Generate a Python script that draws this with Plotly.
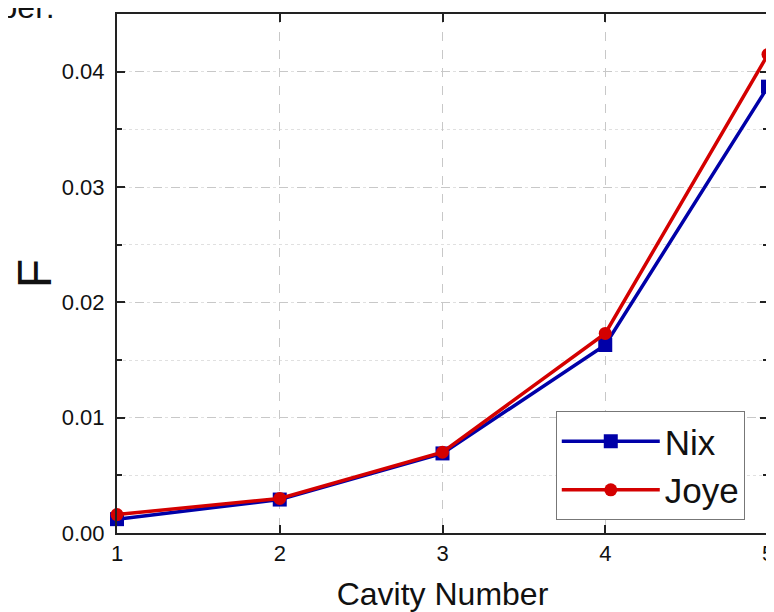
import plotly.graph_objects as go

cavity = [1, 2, 3, 4, 5]
nix = [0.0012, 0.0029, 0.0069, 0.0163, 0.0387]
joye = [0.0016, 0.0030, 0.0070, 0.0173, 0.0415]
y_ticks = [0.00, 0.01, 0.02, 0.03, 0.04]
y_ticklabels = ["0.00", "0.01", "0.02", "0.03", "0.04"]

fig = go.Figure()
fig.add_trace(go.Scatter(x=cavity, y=nix, name="Nix", mode="lines+markers",
                         line=dict(color="#0000A8", width=3.5),
                         marker=dict(symbol="square", size=14, color="#0000A8"),
                         cliponaxis=False))
fig.add_trace(go.Scatter(x=cavity, y=joye, name="Joye", mode="lines+markers",
                         line=dict(color="#D40000", width=3.5),
                         marker=dict(symbol="circle", size=13, color="#D40000"),
                         cliponaxis=False))

font_family = "Liberation Sans, Arial, sans-serif"
axis_common = dict(showline=True, linecolor="#222222", linewidth=2, mirror="ticks",
                   ticks="inside", ticklen=8, tickwidth=2, tickcolor="#222222",
                   showgrid=True, gridcolor="#c8c8c8", gridwidth=1, griddash="dash",
                   zeroline=False, automargin=False, ticklabeloverflow="allow",
                   tickfont=dict(family=font_family, size=22, color="#111111"))

fig.update_xaxes(range=[1, 5], tickvals=cavity, ticktext=[str(c) for c in cavity],
                 ticklabelstandoff=0,
                 title=dict(text="Cavity Number", font=dict(family=font_family, size=32, color="#111111"),
                            standoff=18),
                 **axis_common)
fig.update_yaxes(range=[0, 0.045], tickvals=y_ticks, ticktext=y_ticklabels,
                 ticklabelstandoff=6,
                 title=dict(text="F", font=dict(family=font_family, size=48, color="#111111"),
                            standoff=14),
                 minor=dict(dtick=0.005, ticks="inside", ticklen=5, tickwidth=2, tickcolor="#222222",
                            showgrid=True, gridcolor="#e0e0e0", griddash="dot"),
                 **axis_common)

fig.update_layout(
    width=766, height=604,
    margin=dict(l=109, r=6, t=6, b=79),
    paper_bgcolor="white", plot_bgcolor="white",
    showlegend=True,
    legend=dict(x=0.674, y=0.235, xanchor="left", yanchor="top",
                bgcolor="white", bordercolor="#777777", borderwidth=1,
                font=dict(family=font_family, size=35, color="#111111"),
                itemwidth=98, tracegroupgap=0),
    annotations=[dict(text="Number:", x=-0.092, y=1.0, xref="paper", yref="paper",
                      xanchor="right", yanchor="middle", yshift=7, showarrow=False,
                      font=dict(family=font_family, size=32, color="#111111"))],
)

fig.write_html("out.html")
